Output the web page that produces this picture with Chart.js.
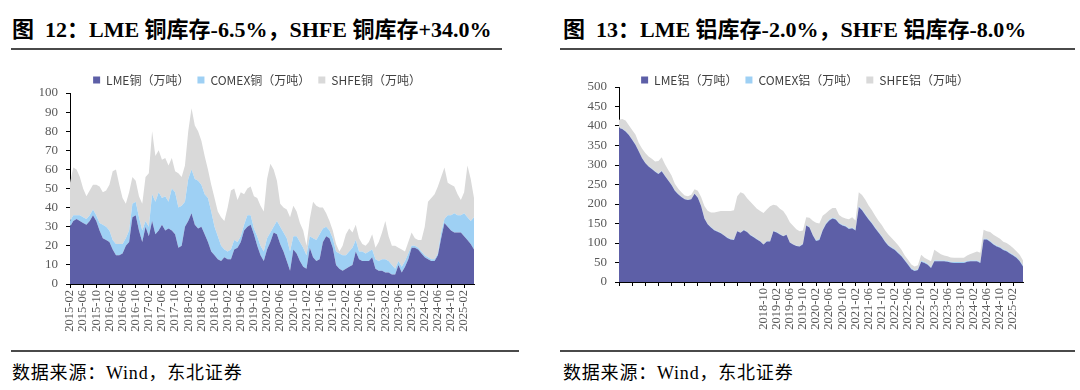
<!DOCTYPE html>
<html>
<head>
<meta charset="utf-8">
<script src="https://cdn.jsdelivr.net/npm/chart.js@4.4.1/dist/chart.umd.min.js"></script>
<style>
  body { margin: 0; width: 1080px; height: 390px; background: #fff; overflow: hidden; position: relative; }
  .title { position: absolute; top: 11px; font: bold 22px "Liberation Serif", "Noto Sans CJK SC", serif; color: #000; white-space: nowrap; }
  .rule { position: absolute; height: 2px; background: #4a4a4a; }
  .src { position: absolute; top: 358px; line-height: 20px; font: 18px "Liberation Serif", "Noto Sans CJK SC", serif; letter-spacing: 0.8px; color: #000; white-space: nowrap; }
  .box { position: absolute; top: 66px; height: 279px; }
</style>
</head>
<body>
<div class="title" style="left:12px">图&nbsp;&nbsp;12：LME 铜库存-6.5%，SHFE 铜库存+34.0%</div>
<div class="rule" style="left:11px; width:491px; top:48px"></div>
<div class="title" style="left:563px">图&nbsp;&nbsp;13：LME 铝库存-2.0%，SHFE 铝库存-8.0%</div>
<div class="rule" style="left:560px; width:515px; top:48px"></div>

<div class="box" style="left:0; width:530px"><canvas id="cu"></canvas></div>
<div class="box" style="left:545px; width:535px"><canvas id="al"></canvas></div>

<div class="rule" style="left:11px; width:508px; top:350px"></div>
<div class="rule" style="left:560px; width:515px; top:350px"></div>
<div class="src" style="left:12px; top:358px">数据来源：Wind，东北证券</div>
<div class="src" style="left:563px; top:358px">数据来源：Wind，东北证券</div>

<script>
// months 2015-02 .. 2025-05
const months = [];
for (let y = 2015, m = 2; months.length < 124; m++) {
  if (m > 12) { m = 1; y++; }
  months.push(y + '-' + String(m).padStart(2, '0'));
}

// copper, 万吨
const lmeCu = [30,33,34,33,32,31,33,36,33,28,24,23,22,18,15,15,16,20,22,35,36,28,22,30,25,33,26,28,31,28,
  29,28,26,19,20,30,33,37,31,29,30,26,22,17,15,13,12,14,13,13,18,19,22,28,30,31,26,20,15,12,
  18,22,27,26,21,17,12,7,18,16,12,9,8,19,14,12,13,22,25,24,19,10,8,7,8,9,10,17,13,12,
  12,12,14,8,7,7,6,6,5,5,10,6,9,13,19,19,18,16,14,13,12,12,15,24,32,30,28,27,27,27,
  25,23,21,18];
const comexCu = [3,3,2,3,3,3,3,3,3,4,7,7,6,5,6,6,5,4,6,7,7,7,6,3,5,14,17,20,14,18,
  14,22,22,21,21,13,22,23,24,25,22,21,23,21,15,12,8,4,4,5,5,3,3,3,6,5,3,5,5,5,
  6,5,3,7,9,10,12,10,7,9,10,10,7,6,10,11,13,7,5,4,5,7,8,8,7,8,9,6,4,5,
  4,5,4,5,5,6,7,6,5,3,2,3,3,3,1,1,1,1,1,1,1,1,1,3,2,6,8,10,9,9,
  12,12,12,17];
const shfeCu = [20,25,24,20,15,12,13,13,16,19,17,19,24,36,39,31,24,18,20,14,11,11,14,23,28,33,24,22,20,20,
  19,16,11,18,15,19,25,32,28,26,23,20,15,14,15,13,15,15,23,31,27,22,23,16,14,15,17,20,21,21,
  31,36,30,21,12,13,15,18,16,13,10,9,5,9,19,18,14,11,7,5,4,4,1,5,11,12,8,8,7,4,
  4,5,8,6,10,14,20,13,10,12,7,9,5,6,7,4,4,6,15,29,32,34,35,29,27,17,16,14,11,8,
  11,27,22,10];

// aluminium, 万吨
const lmeAl = [395,392,386,377,365,352,335,318,305,296,290,283,277,284,272,260,249,234,225,218,212,210,212,226,216,195,163,148,140,133,
  129,125,119,113,109,108,130,126,133,128,120,115,109,104,96,104,104,130,127,122,117,121,101,96,92,91,97,145,140,120,
  105,108,132,148,158,163,160,150,145,142,136,138,132,192,184,172,160,150,138,127,116,103,93,87,82,74,66,55,44,33,
  28,31,52,49,44,36,53,53,53,53,52,50,49,49,49,49,52,53,53,53,49,109,109,103,96,91,88,82,79,73,
  68,62,53,40];
const comexAl = [1,1,1,1,1,1,1,1,1,1,1,1,1,1,1,1,1,1,1,1,1,1,1,1,1,1,1,1,1,1,
  1,1,1,1,1,1,1,1,1,1,1,1,1,1,1,1,1,1,1,1,1,1,1,1,1,1,1,1,1,1,
  2,2,2,2,2,2,2,2,2,2,2,2,2,2,2,2,2,2,2,2,2,2,2,2,2,2,2,2,2,2,
  2,2,2,2,2,2,2,2,2,2,2,2,2,2,2,2,2,2,2,2,2,2,2,2,2,2,2,2,2,2,
  2,2,2,2];
const shfeAl = [20,25,27,24,24,25,21,23,25,25,25,25,32,35,29,26,23,17,14,11,9,9,11,11,17,22,31,34,37,44,
  50,56,62,68,72,75,89,103,92,86,85,81,78,77,80,81,89,67,68,65,64,48,51,47,42,38,34,20,24,36,
  45,40,36,26,24,25,28,20,19,19,23,26,24,36,37,37,34,32,30,28,28,28,27,24,20,18,15,11,11,10,
  10,10,16,11,12,15,28,22,16,13,12,11,11,11,11,11,14,17,20,23,24,23,19,23,23,23,21,19,19,19,
  17,15,15,13];

const cuNames = ['LME铜（万吨）', 'COMEX铜（万吨）', 'SHFE铜（万吨）'];
const alNames = ['LME铝（万吨）', 'COMEX铝（万吨）', 'SHFE铝（万吨）'];
const colors = ['#5D5FA7', '#9ED0F4', '#D9D9D9'];

const serif = '"Liberation Serif", "Times New Roman", serif';
const sans = '"Noto Sans CJK SC", sans-serif';

function makeChart(id, names, series, yMax, yStep, padLeft, yWidth, padRight, xHeight, legendH, firstLabel) {
  const ctx = document.getElementById(id).getContext('2d');
  return new Chart(ctx, {
    type: 'line',
    data: {
      labels: months,
      datasets: series.map((d, i) => ({
        label: names[i],
        data: d,
        backgroundColor: colors[i],
        borderColor: colors[i],
        borderWidth: 0,
        pointRadius: 0,
        fill: i === 0 ? 'origin' : '-1'
      }))
    },
    options: {
      responsive: true,
      maintainAspectRatio: false,
      animation: false,
      layout: { padding: { left: padLeft, right: padRight, top: 0, bottom: 0 } },
      scales: {
        x: {
          offset: false,
          grid: { drawOnChartArea: false, tickLength: 4, color: '#000' },
          border: { color: '#000' },
          afterFit: s => { s.height = xHeight; },
          ticks: {
            autoSkip: false,
            minRotation: 90,
            maxRotation: 90,
            padding: 2,
            color: '#595959',
            font: { family: serif, size: 12.5 },
            callback: function (v, i) {
              if (i % 4 !== 0) return null;
              return i < firstLabel ? '' : months[i];
            }
          }
        },
        y: {
          stacked: true,
          min: 0,
          max: yMax,
          afterFit: s => { s.width = yWidth; },
          grid: { drawOnChartArea: false, tickLength: 4, color: '#000' },
          border: { color: '#000' },
          ticks: {
            stepSize: yStep,
            autoSkip: false,
            padding: 8,
            color: '#595959',
            font: { family: serif, size: 13 }
          }
        }
      },
      plugins: {
        tooltip: { enabled: false },
        legend: {
          maxHeight: legendH,
          labels: {
            boxWidth: 7,
            boxHeight: 7,
            padding: 8,
            color: '#404040',
            font: { family: sans, size: 12 }
          }
        }
      }
    }
  });
}

makeChart('cu', cuNames, [lmeCu, comexCu, shfeCu], 100, 10, 40, 30, 56, 61, 27, 0);
makeChart('al', alNames, [lmeAl, comexAl, shfeAl], 500, 50, 42, 32, 57, 63, 21, 44);
</script>
</body>
</html>
